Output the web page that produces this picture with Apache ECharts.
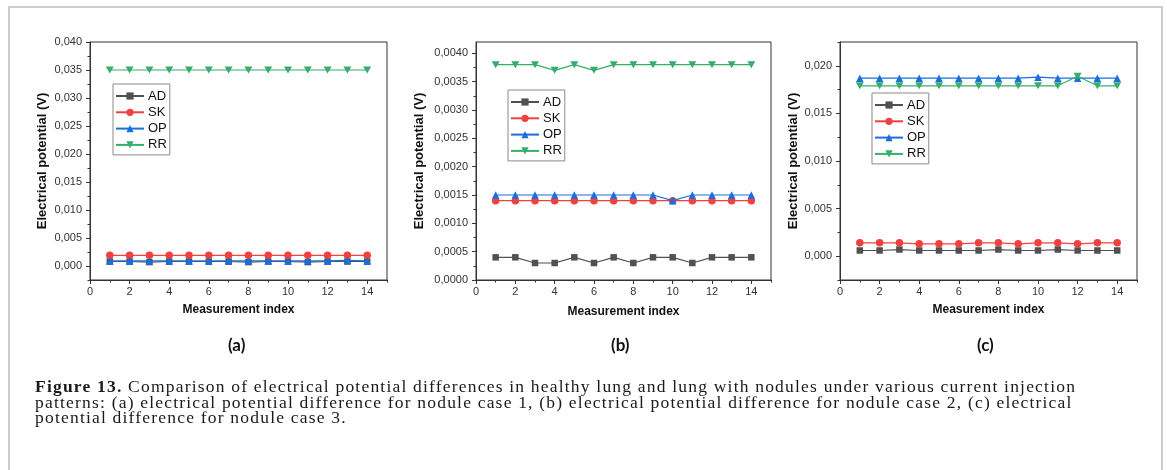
<!DOCTYPE html>
<html>
<head>
<meta charset="utf-8">
<title>Figure 13</title>
<script src="https://cdn.jsdelivr.net/npm/echarts@6/dist/echarts.min.js"></script>
<style>
  html, body { margin: 0; padding: 0; background: #ffffff; }
  #wrap { position: relative; width: 1167px; height: 470px; overflow: hidden; background: #fff; }
  #chart { position: absolute; left: 0; top: 0; width: 1167px; height: 470px; }
  #frame { position: absolute; left: 8px; top: 6px; width: 1155px; height: 480px;
           border: 2px solid #cdcdcd; box-sizing: border-box; pointer-events: none; }
  #caption { position: absolute; left: 35px; top: 379px; width: 1120px;
             font-family: "Liberation Serif", "Times New Roman", serif; font-size: 17.5px;
             line-height: 15.7px; letter-spacing: 1.2px; color: #1a1a1a; white-space: nowrap; }
  #caption b { font-weight: bold; }
</style>
</head>
<body>
<div id="wrap">
  <div id="chart"></div>
  <div id="frame"></div>
  <div id="caption"><b>Figure 13.</b> Comparison of electrical potential differences in healthy lung and lung with nodules under various current injection<br>patterns: (a) electrical potential difference for nodule case 1, (b) electrical potential difference for nodule case 2, (c) electrical<br>potential difference for nodule case 3.</div>
</div>
<script>
// ---- data ----
const measurementIndex = [1, 2, 3, 4, 5, 6, 7, 8, 9, 10, 11, 12, 13, 14];
const seriesNames = ['AD', 'SK', 'OP', 'RR'];
const panelLabels = ['(a)', '(b)', '(c)'];

// nodule case 1
const case1AD = [0.0008, 0.0008, 0.0007, 0.0008, 0.0008, 0.0008, 0.0008, 0.0007, 0.0008, 0.0008, 0.0007, 0.0008, 0.0008, 0.0008];
const case1SK = [0.0019, 0.0019, 0.0019, 0.0019, 0.0019, 0.0019, 0.0019, 0.0019, 0.0019, 0.0019, 0.0019, 0.0019, 0.0019, 0.0019];
const case1OP = [0.0009, 0.0009, 0.0009, 0.0009, 0.0009, 0.0009, 0.0009, 0.0009, 0.0009, 0.0009, 0.0009, 0.0009, 0.0010, 0.0009];
const case1RR = [0.035, 0.035, 0.035, 0.035, 0.035, 0.035, 0.035, 0.035, 0.035, 0.035, 0.035, 0.035, 0.035, 0.035];

// nodule case 2
const case2AD = [0.0004, 0.0004, 0.0003, 0.0003, 0.0004, 0.0003, 0.0004, 0.0003, 0.0004, 0.0004, 0.0003, 0.0004, 0.0004, 0.0004];
const case2SK = [0.0014, 0.0014, 0.0014, 0.0014, 0.0014, 0.0014, 0.0014, 0.0014, 0.0014, 0.0014, 0.0014, 0.0014, 0.0014, 0.0014];
const case2OP = [0.0015, 0.0015, 0.0015, 0.0015, 0.0015, 0.0015, 0.0015, 0.0015, 0.0015, 0.0014, 0.0015, 0.0015, 0.0015, 0.0015];
const case2RR = [0.0038, 0.0038, 0.0038, 0.0037, 0.0038, 0.0037, 0.0038, 0.0038, 0.0038, 0.0038, 0.0038, 0.0038, 0.0038, 0.0038];

// nodule case 3
const case3AD = [0.0006, 0.0006, 0.0007, 0.0006, 0.0006, 0.0006, 0.0006, 0.0007, 0.0006, 0.0006, 0.0007, 0.0006, 0.0006, 0.0006];
const case3SK = [0.0014, 0.0014, 0.0014, 0.0013, 0.0013, 0.0013, 0.0014, 0.0014, 0.0013, 0.0014, 0.0014, 0.0013, 0.0014, 0.0014];
const case3OP = [0.0187, 0.0187, 0.0187, 0.0187, 0.0187, 0.0187, 0.0187, 0.0187, 0.0187, 0.0188, 0.0187, 0.0187, 0.0187, 0.0187];
const case3RR = [0.0179, 0.0179, 0.0179, 0.0179, 0.0179, 0.0179, 0.0179, 0.0179, 0.0179, 0.0179, 0.0179, 0.0189, 0.0179, 0.0179];

// axis ticks
const xTicks = [0, 2, 4, 6, 8, 10, 12, 14];
const xMinorTicks = [1, 3, 5, 7, 9, 11, 13, 15];
const yTicks1 = [0, 0.005, 0.010, 0.015, 0.020, 0.025, 0.030, 0.035, 0.040];
const yMinorTicks1 = [-0.0025, 0.0025, 0.0075, 0.0125, 0.0175, 0.0225, 0.0275, 0.0325, 0.0375];
const yTicks2 = [0, 0.0005, 0.0010, 0.0015, 0.0020, 0.0025, 0.0030, 0.0035, 0.0040];
const yMinorTicks2 = [0.00025, 0.00075, 0.00125, 0.00175, 0.00225, 0.00275, 0.00325, 0.00375];
const yTicks3 = [0, 0.005, 0.010, 0.015, 0.020];
const yMinorTicks3 = [-0.0025, 0.0025, 0.0075, 0.0125, 0.0175, 0.0225];

// ---- layout & style ----
const colors = { AD: '#515151', SK: '#F14040', OP: '#1A6FDF', RR: '#37AD6B' };
const symbols = { AD: 'rect', SK: 'circle', OP: 'triangle', RR: 'path://M0,0L10,0L5,9Z' };
const symbolSizes = { AD: 6.5, SK: 7.5, OP: 7.5, RR: [8, 7] };

const panels = [
  { values: [case1AD, case1SK, case1OP, case1RR], yRange: [-0.0025, 0.040], yTicks: yTicks1, yMinor: yMinorTicks1, decimals: 3,
    grid: { left: 90, top: 42, width: 297, height: 238 }, yNameGap: 41, xNameGap: 24, legend: { left: 113, top: 84 }, labelX: 240 },
  { values: [case2AD, case2SK, case2OP, case2RR], yRange: [0, 0.0042], yTicks: yTicks2, yMinor: yMinorTicks2, decimals: 4,
    grid: { left: 476, top: 42, width: 295, height: 238 }, yNameGap: 50, xNameGap: 26, legend: { left: 508, top: 90 }, labelX: 623 },
  { values: [case3AD, case3SK, case3OP, case3RR], yRange: [-0.0025, 0.0225], yTicks: yTicks3, yMinor: yMinorTicks3, decimals: 3,
    grid: { left: 840, top: 42, width: 297, height: 238 }, yNameGap: 40, xNameGap: 24, legend: { left: 872, top: 93 }, labelX: 989 }
];

const axisColor = '#333333';
const tickFont = { fontFamily: '"Liberation Sans", Arial, sans-serif', fontSize: 11, color: '#333333' };
const nameFontX = { fontFamily: '"Liberation Sans", Arial, sans-serif', fontSize: 12, fontWeight: 'bold', color: '#111111' };
const nameFontY = { fontFamily: '"Liberation Sans", Arial, sans-serif', fontSize: 13, fontWeight: 'bold', color: '#111111' };

const grids = [], xAxes = [], yAxes = [], series = [], legends = [], graphics = [];

panels.forEach((p, g) => {
  grids.push(Object.assign({ show: true, borderColor: axisColor, borderWidth: 1, backgroundColor: 'transparent',
    containLabel: false, outerBoundsMode: 'none' }, p.grid));

  // main x axis: labels + major ticks
  xAxes.push({
    type: 'value', gridIndex: g, min: 0, max: 15, position: 'bottom',
    name: 'Measurement index', nameLocation: 'middle', nameGap: p.xNameGap, nameTextStyle: nameFontX, nameMoveOverlap: false,
    axisLine: { show: true, onZero: false, lineStyle: { color: axisColor, width: 1 } },
    axisTick: { show: true, inside: false, length: 4, customValues: xTicks, lineStyle: { color: axisColor } },
    axisLabel: { show: true, margin: 6, customValues: xTicks, formatter: v => String(v), ...tickFont },
    splitLine: { show: false }
  });
  // minor x ticks
  xAxes.push({
    type: 'value', gridIndex: g, min: 0, max: 15, position: 'bottom',
    axisLine: { show: false, onZero: false },
    axisTick: { show: true, inside: false, length: 2.5, customValues: xMinorTicks, lineStyle: { color: axisColor } },
    axisLabel: { show: false }, splitLine: { show: false }
  });

  yAxes.push({
    type: 'value', gridIndex: g, min: p.yRange[0], max: p.yRange[1], position: 'left',
    name: 'Electrical potential (V)', nameLocation: 'middle', nameGap: p.yNameGap, nameRotate: 90,
    nameTextStyle: nameFontY, nameMoveOverlap: false,
    axisLine: { show: true, onZero: false, lineStyle: { color: axisColor, width: 1 } },
    axisTick: { show: true, inside: false, length: 4, customValues: p.yTicks, lineStyle: { color: axisColor } },
    axisLabel: { show: true, margin: 8, customValues: p.yTicks,
      formatter: v => Number(v).toFixed(p.decimals).replace('.', ','), ...tickFont },
    splitLine: { show: false }
  });
  // minor y ticks
  yAxes.push({
    type: 'value', gridIndex: g, min: p.yRange[0], max: p.yRange[1], position: 'left', offset: 0,
    axisLine: { show: false, onZero: false },
    axisTick: { show: true, inside: false, length: 2.5, customValues: p.yMinor, lineStyle: { color: axisColor } },
    axisLabel: { show: false }, splitLine: { show: false }
  });

  seriesNames.forEach((name, k) => {
    series.push({
      type: 'line', name: name, xAxisIndex: 2 * g, yAxisIndex: 2 * g,
      data: measurementIndex.map((x, i) => [x, p.values[k][i]]),
      symbol: symbols[name], symbolSize: symbolSizes[name], showAllSymbol: true,
      itemStyle: { color: colors[name] },
      lineStyle: { color: colors[name], width: 1.2 },
      emphasis: { disabled: true }, z: 2 + k
    });
  });

  legends.push({
    left: p.legend.left, top: p.legend.top, orient: 'vertical', data: seriesNames,
    itemWidth: 28, itemHeight: 9, itemGap: 2.3, padding: [5, 3, 3, 2],
    borderColor: '#8a8a8a', borderWidth: 1, backgroundColor: '#ffffff', selectedMode: false,
    textStyle: { fontFamily: '"Liberation Sans", Arial, sans-serif', fontSize: 13, lineHeight: 14, color: '#111111', padding: [0, 0, 0, -1] }
  });

  graphics.push({
    type: 'text', left: p.labelX - 12, top: 337,
    style: { text: panelLabels[g], font: 'bold 17px Lato, "Open Sans", sans-serif', fill: '#111111' }
  });
});

const chart = echarts.init(document.getElementById('chart'), null, { renderer: 'canvas' });
chart.setOption({
  animation: false,
  backgroundColor: 'transparent',
  grid: grids, xAxis: xAxes, yAxis: yAxes, series: series, legend: legends, graphic: graphics
});
</script>
</body>
</html>
